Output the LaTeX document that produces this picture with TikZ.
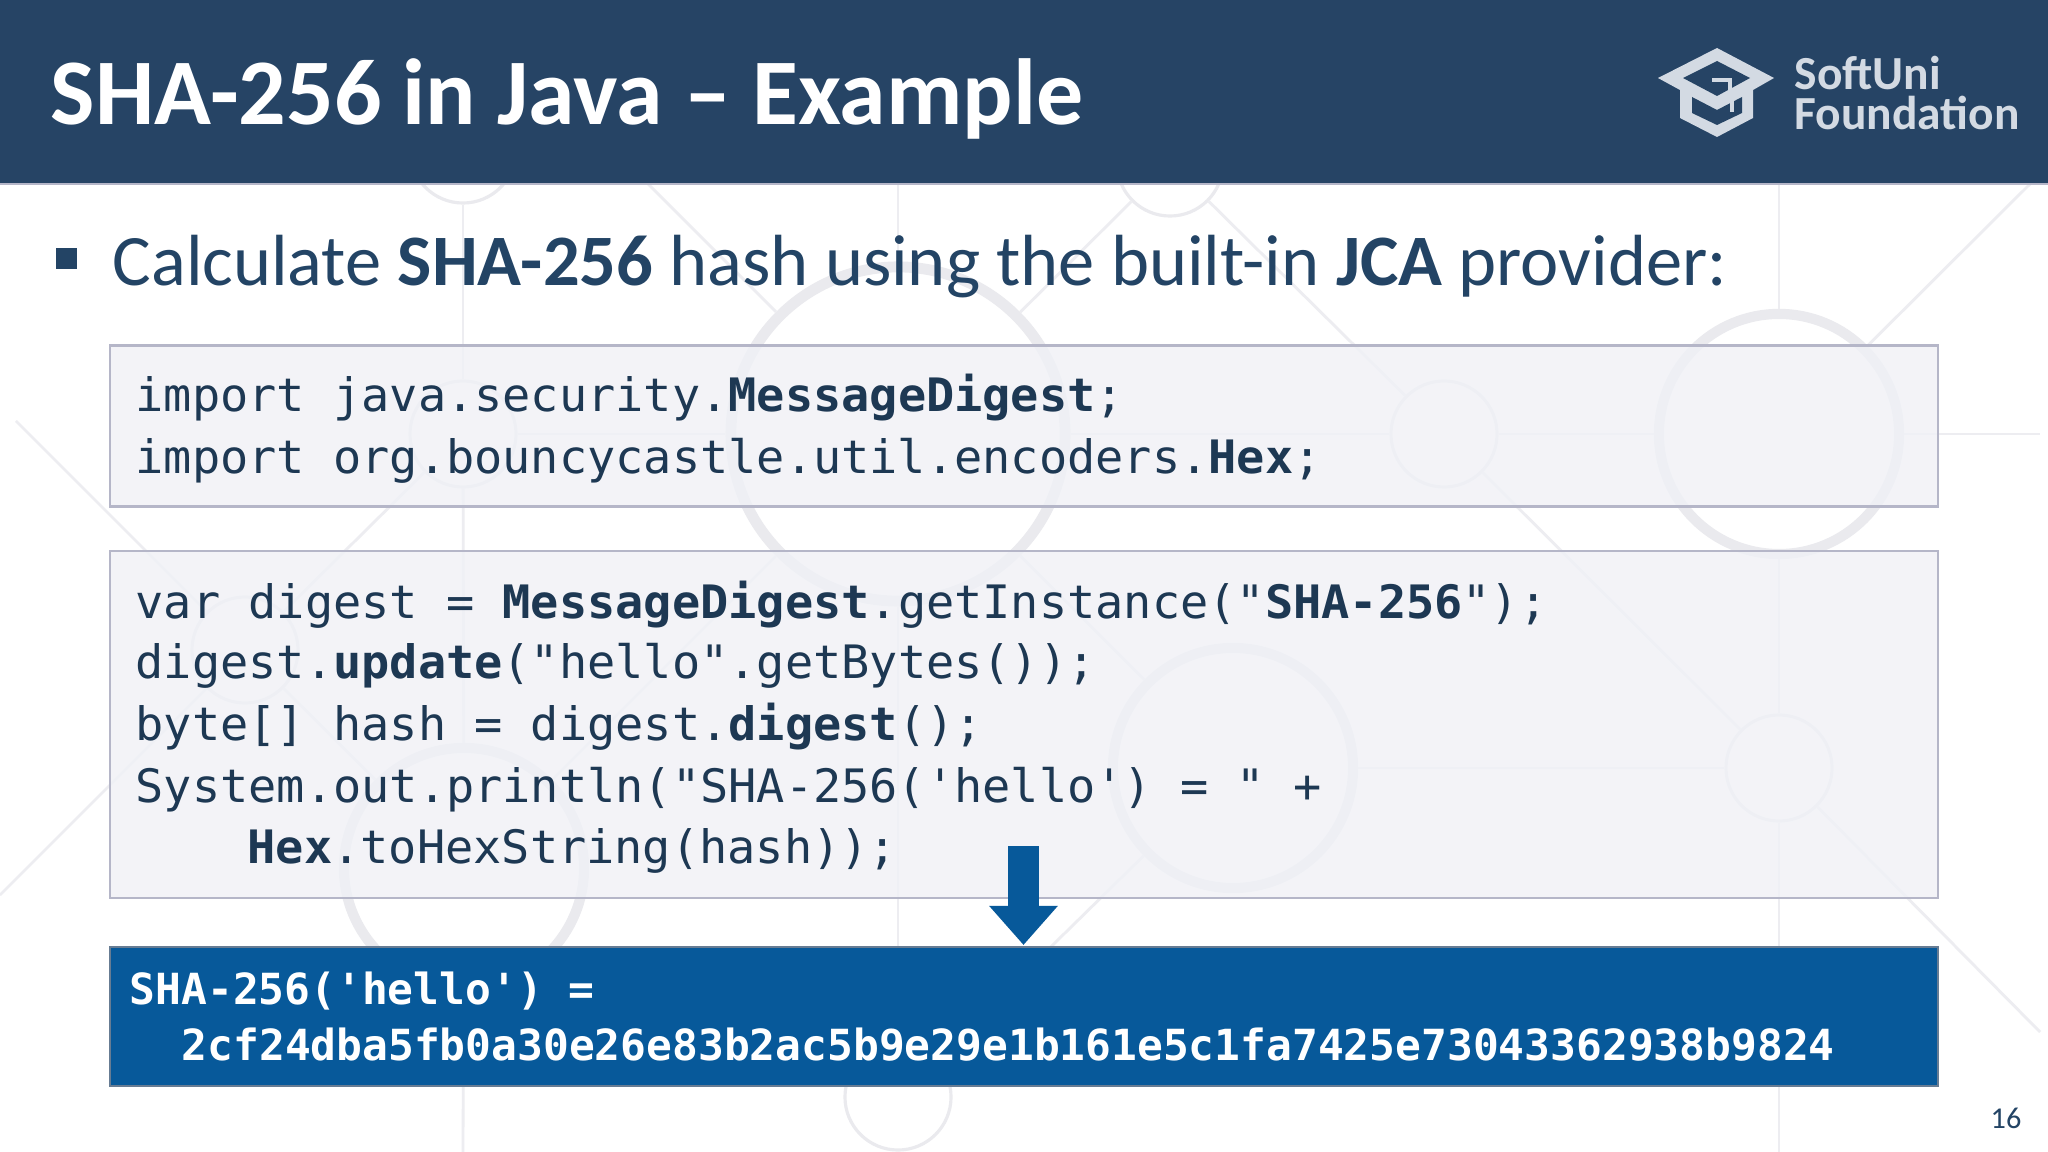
\documentclass[tikz,border=0pt]{standalone}
\usepackage{fontspec}
\usetikzlibrary{arrows.meta}
\setmainfont{Carlito}
\newfontfamily\codefont{DejaVu Sans Mono}[FakeStretch=1.018]
\newfontfamily\resultfont{DejaVu Sans Mono}
\definecolor{headblue}{HTML}{264465}
\definecolor{textblue}{HTML}{234465}
\definecolor{codeink}{HTML}{1D3853}
\definecolor{resultblue}{HTML}{07599A}
\definecolor{boxgrey}{HTML}{F0F1F6}
\definecolor{boxedge}{HTML}{B5B6C8}
\definecolor{ringgrey}{HTML}{EAEAEE}
\definecolor{logolight}{HTML}{D3DAE3}
\tikzset{smallring/.style = {circle, draw=ringgrey, line width=0.9pt, minimum size=1.06cm, inner sep=0pt},
         bigring/.style = {circle, draw=ringgrey, line width=2.9pt, minimum size=2.4cm, inner sep=0pt},
         hugering/.style = {circle, draw=ringgrey, line width=3.1pt, minimum size=3.34cm, inner sep=0pt},
         bgline/.style = {draw=ringgrey!85, line width=0.8pt},
         codebox/.style = {draw=boxedge, line width=0.6pt, fill=boxgrey, fill opacity=0.8, draw opacity=1,
                           minimum width=18.27cm, inner sep=0pt},
         outbox/.style = {draw=headblue!70, line width=0.5pt, fill=resultblue, minimum width=18.27cm,
                          minimum height=1.39cm, inner sep=0pt},
         codeline/.style = {anchor=base west, inner sep=0pt, text=codeink,
                            font=\codefont\fontsize{13.1pt}{15pt}\selectfont},
         outline/.style = {anchor=base west, inner sep=0pt, text=white,
                           font=\resultfont\bfseries\fontsize{12.2pt}{14pt}\selectfont}}

\begin{document}
\begin{tikzpicture}[x=0.01cm, y=-0.01cm]
  \useasboundingbox (0, 0) rectangle (2048, 1152);
  \fill [white] (0, 0) rectangle (2048, 1152);

  % rings behind the slide
  \node [smallring] (ringa) at (463, 150) {};
  \node [smallring] (ringb) at (463, 434) {};
  \node [smallring] (ringc) at (245, 650) {};
  \node [bigring] (ringd) at (464, 868) {};
  \node [hugering] (ringe) at (898, 434) {};
  \node [bigring] (ringf) at (1779, 434) {};
  \node [smallring] (ringg) at (1444, 434) {};
  \node [smallring] (ringh) at (1779, 768) {};
  \node [bigring] (ringi) at (1233, 768) {};
  \node [smallring] (ringj) at (1170, 163) {};
  \node [smallring] (ringk) at (898, 1097) {};

  \coordinate (topb) at (463, 184);
  \coordinate (tope) at (898, 184);
  \coordinate (topf) at (1779, 184);
  \coordinate (footb) at (463, 1152);
  \coordinate (foote) at (898, 1152);
  \coordinate (footf) at (1779, 1152);
  \coordinate (sidef) at (2040, 434);
  \coordinate (cornerc) at (16, 421);
  \coordinate (edgec) at (0, 895);
  \coordinate (tope2) at (648, 184);
  \coordinate (sideh) at (2040, 1032);
  \coordinate (topf2) at (2030, 184);

  \draw [bgline] (ringa) -- (ringb);
  \draw [bgline] (ringb) -- (ringd);
  \draw [bgline] (ringd) -- (footb);
  \draw [bgline] (tope) -- (ringe);
  \draw [bgline] (ringe) -- (ringk);
  \draw [bgline] (ringk) -- (foote);
  \draw [bgline] (topf) -- (ringf);
  \draw [bgline] (ringf) -- (ringh);
  \draw [bgline] (ringh) -- (footf);
  \draw [bgline] (ringb) -- (ringe);
  \draw [bgline] (ringe) -- (ringg);
  \draw [bgline] (ringg) -- (ringf);
  \draw [bgline] (ringf) -- (sidef);
  \draw [bgline] (ringi) -- (ringh);
  \draw [bgline] (cornerc) -- (ringc);
  \draw [bgline] (ringc) -- (ringd);
  \draw [bgline] (edgec) -- (ringc);
  \draw [bgline] (ringc) -- (ringb);
  \draw [bgline] (tope2) -- (ringe);
  \draw [bgline] (ringe) -- (ringj);
  \draw [bgline] (ringj) -- (ringg);
  \draw [bgline] (ringe) -- (ringd);
  \draw [bgline] (ringe) -- (ringi);
  \draw [bgline] (ringi) -- (ringk);
  \draw [bgline] (ringg) -- (ringh);
  \draw [bgline] (ringh) -- (sideh);
  \draw [bgline] (ringf) -- (topf2);

  % header
  \fill [headblue] (0, 0) rectangle (2048, 184);
  \draw [boxedge, line width=0.5pt] (0, 184) -- (2048, 184);
  \node [anchor=base west, inner sep=0pt, text=white, font=\bfseries\fontsize{26.7pt}{30pt}\selectfont]
    (title) at (50, 125) {SHA-256 in Java – Example};

  % logo
  \fill [logolight] (1717, 48) -- (1774, 78) -- (1753, 90) -- (1753, 118) -- (1717, 137)
    -- (1680, 118) -- (1680, 90) -- (1658, 78) -- cycle;
  \fill [headblue] (1717, 61) -- (1750, 78) -- (1717, 96) -- (1683, 78) -- cycle;
  \fill [headblue] (1692, 97) -- (1717, 110) -- (1742, 97) -- (1742, 113) -- (1717, 125) -- (1692, 113) -- cycle;
  \draw [logolight, line width=1.2pt] (1712, 80) -- (1730, 80) -- (1730, 92);
  \draw [logolight, line width=1.4pt] (1732, 95) -- (1732, 112);
  \node [anchor=north west, inner sep=0pt, align=left, text=logolight,
         font=\bfseries\fontsize{13.5pt}{11.4pt}\selectfont]
    (logotext) at (1794, 55) {SoftUni\\Foundation};

  % bullet line
  \fill [textblue] (56, 248) rectangle (77, 269);
  \node [anchor=base west, inner sep=0pt, text=textblue, font=\fontsize{20.6pt}{23pt}\selectfont]
    (intro) at (112, 286) {Calculate \textbf{SHA-256} hash using the built-in \textbf{JCA} provider:};

  % code boxes
  \node [codebox, minimum height=1.61cm] (imports) at (1024, 426) {};
  \node [codebox, minimum height=3.46cm] (program) at (1024, 724.5) {};
  \node [outbox] (output) at (1024, 1016.5) {};

  \node [codeline] (importa) at (135, 412) {import java.security.\textbf{MessageDigest};};
  \node [codeline] (importb) at (135, 474) {import org.bouncycastle.util.encoders.\textbf{Hex};};

  \node [codeline] (linea) at (135, 618) {var digest = \textbf{MessageDigest}.getInstance("\textbf{SHA-256}");};
  \node [codeline] (lineb) at (135, 679) {digest.\textbf{update}("hello".getBytes());};
  \node [codeline] (linec) at (135, 740) {byte[] hash = digest.\textbf{digest}();};
  \node [codeline] (lined) at (135, 802) {System.out.println("SHA-256('hello') = " +};
  \node [codeline] (linee) at (247, 863) {\textbf{Hex}.toHexString(hash));};

  \node [outline] (outa) at (129, 1004) {SHA-256('hello') =};
  \node [outline] (outb) at (181, 1060) {2cf24dba5fb0a30e26e83b2ac5b9e29e1b161e5c1fa7425e73043362938b9824};

  % arrow into the result
  \coordinate (arrowtop) at (1023.5, 846);
  \coordinate (arrowend) at (1023.5, 945);
  \draw [-{Triangle[width=0.66cm, length=0.39cm]}, resultblue, line width=0.31cm] (arrowtop) -- (arrowend);

  \node [anchor=base west, inner sep=0pt, text=textblue, font=\fontsize{8.6pt}{10pt}\selectfont]
    (pagenum) at (1990, 1128) {16};
\end{tikzpicture}
\end{document}
